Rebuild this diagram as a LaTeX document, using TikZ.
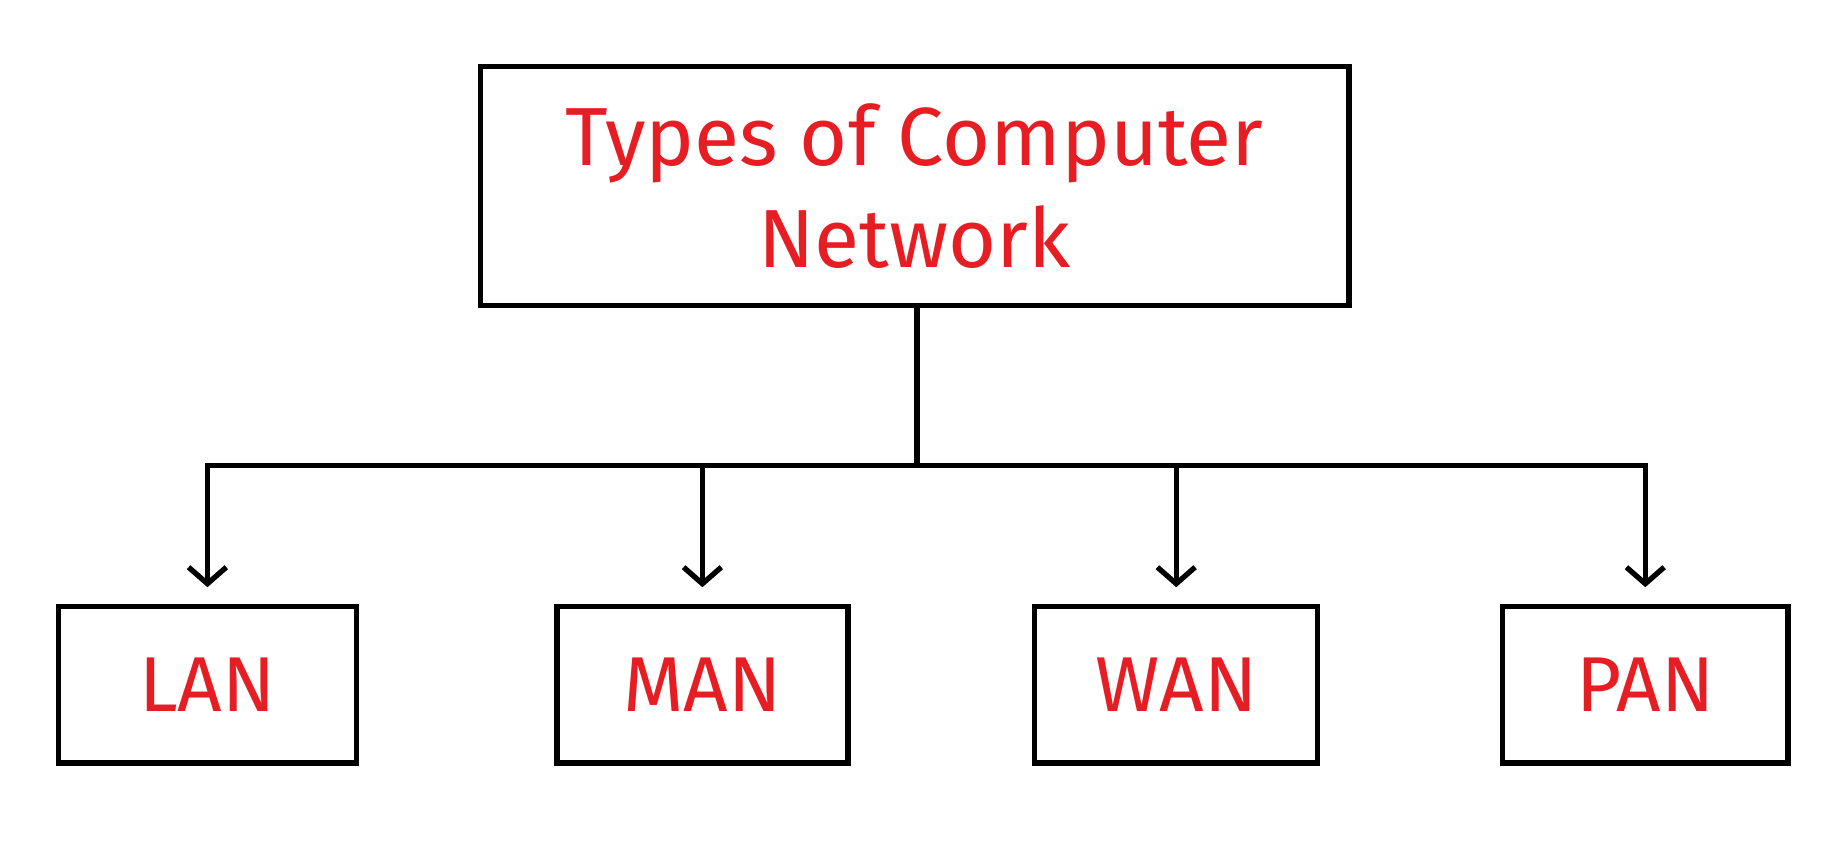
\documentclass[tikz,border=0pt]{standalone}
\usepackage{fontspec}
\setmainfont{Fira Sans}
\usepackage{tikz}
\usetikzlibrary{positioning,arrows.meta}
\definecolor{penred}{RGB}{230,30,35}
\begin{document}
\begin{tikzpicture}[x=1pt,y=1pt,yscale=-1,
    box/.style={draw,line width=4.5pt,inner sep=0pt,font=\fontsize{66}{68}\selectfont,text=penred},
    link/.style={line width=4.5pt,-{Straight Barb[length=14pt,width=32pt,line width=4.5pt]}}]
        \useasboundingbox[fill=white] (0,0) rectangle (1568,722);
        % title box
        \node [box,minimum width=737pt,minimum height=203pt,align=center,
               font=\fontsize{70}{86}\selectfont] (types) at (776,158)
               {Types of Computer\\Network};
        % child boxes
        \node [box,minimum width=253pt,minimum height=133pt] (lan) at (176,581) {LAN};
        \node [box,minimum width=247pt,minimum height=133pt] (man) at (596,581) {MAN};
        \node [box,minimum width=240pt,minimum height=133pt] (wan) at (998,581) {WAN};
        \node [box,minimum width=242pt,minimum height=133pt] (pan) at (1396,581) {PAN};
        % bus
        \coordinate (bus) at (778,395);
        \draw [line width=4.5pt] (types.south -| bus) -- (bus);
        \draw [line width=4.5pt,line cap=rect] (lan.north |- bus) -- (pan.north |- bus);
        \foreach \n in {lan,man,wan,pan}
            \draw [link] (\n.north |- bus) -- ([yshift=-14pt]\n.north);
\end{tikzpicture}
\end{document}
